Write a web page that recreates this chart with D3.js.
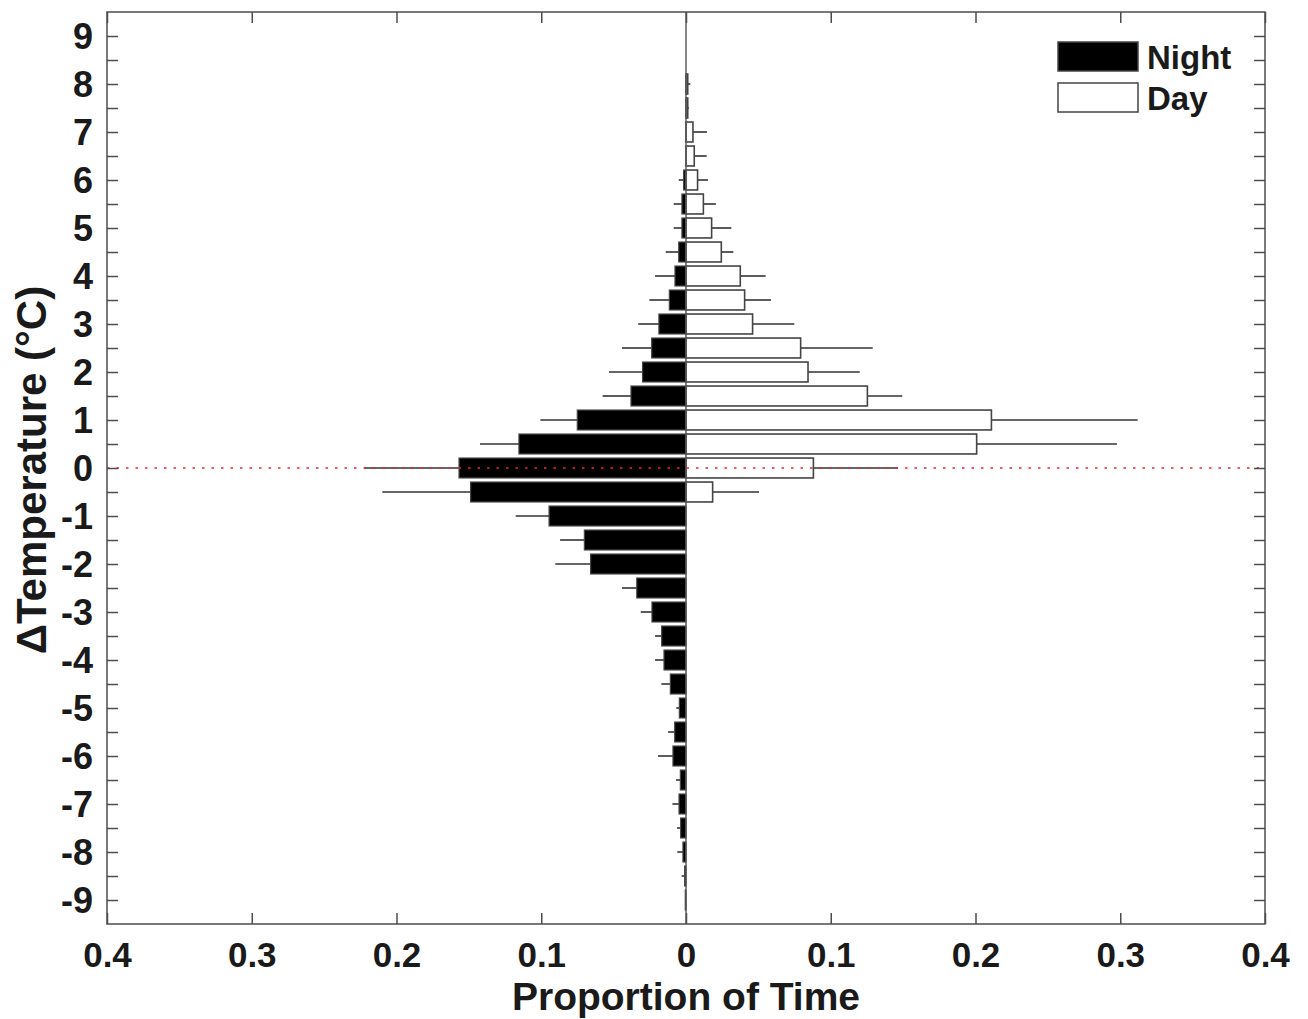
<!DOCTYPE html>
<html>
<head>
<meta charset="utf-8">
<script src="https://cdn.jsdelivr.net/npm/d3@7"></script>
<style>
  body { margin: 0; background: #fff; }
  svg text { font-family: "Liberation Sans", Arial, Helvetica, sans-serif; font-weight: bold; fill: #1a1a1a; }
</style>
</head>
<body>
<div id="chart"></div>
<script>
// temperature bins (centre of each 0.5 degree bin)
const bins = [8, 7.5, 7, 6.5, 6, 5.5, 5, 4.5, 4, 3.5, 3, 2.5, 2, 1.5, 1, 0.5, 0,
  -0.5, -1, -1.5, -2, -2.5, -3, -3.5, -4, -4.5, -5, -5.5, -6, -6.5, -7, -7.5, -8, -8.5, -9];

// proportion of time, night
const night = [0, 0, 0, 0, 0.0016, 0.0028, 0.0028, 0.005, 0.0076, 0.0115, 0.0187, 0.0237, 0.030, 0.038, 0.0751, 0.1154, 0.1568,
  0.1488, 0.0946, 0.0702, 0.0659, 0.034, 0.0235, 0.0168, 0.0152, 0.0108, 0.0046, 0.0078, 0.009, 0.0039, 0.0048, 0.0037, 0.0021, 0.0009, 0.0005];
// end of the night error bar
const nightUpper = [0, 0, 0, 0, 0.005, 0.0085, 0.0085, 0.014, 0.0214, 0.0253, 0.033, 0.0442, 0.0532, 0.0576, 0.1006, 0.1423, 0.2222,
  0.2098, 0.1177, 0.087, 0.0903, 0.0442, 0.0313, 0.0214, 0.0214, 0.017, 0.0067, 0.0124, 0.0193, 0.0069, 0.0094, 0.0062, 0.006, 0.003, 0.0007];

// proportion of time, day
const day = [0.0012, 0.0012, 0.0048, 0.0057, 0.008, 0.012, 0.0177, 0.0244, 0.0375, 0.0405, 0.046, 0.0792, 0.0843, 0.1253, 0.211, 0.2008, 0.088,
  0.0184, 0, 0, 0, 0, 0, 0, 0, 0, 0, 0, 0, 0, 0, 0, 0, 0, 0];
const dayUpper = [0.003, 0.002, 0.0145, 0.0143, 0.0152, 0.0207, 0.0313, 0.0327, 0.055, 0.0587, 0.0748, 0.129, 0.12, 0.1494, 0.312, 0.2977, 0.1465,
  0.0504, 0, 0, 0, 0, 0, 0, 0, 0, 0, 0, 0, 0, 0, 0, 0, 0, 0];

const xTicks = [-0.4, -0.3, -0.2, -0.1, 0, 0.1, 0.2, 0.3, 0.4];
const yTicks = [9, 8, 7, 6, 5, 4, 3, 2, 1, 0, -1, -2, -3, -4, -5, -6, -7, -8, -9];
const yMinorTicks = [8.5, 7.5, 6.5, 5.5, 4.5, 3.5, 2.5, 1.5, 0.5, -0.5, -1.5, -2.5, -3.5, -4.5, -5.5, -6.5, -7.5, -8.5];

const width = 1308, height = 1019;
const margin = {top: 12, right: 43, bottom: 95, left: 107};

const svg = d3.select("#chart").append("svg")
  .attr("width", width)
  .attr("height", height);

const x = d3.scaleLinear().domain([-0.4, 0.4]).range([margin.left, width - margin.right]);
const y = d3.scaleLinear().domain([-9.5, 9.5]).range([height - margin.bottom, margin.top]);

const binH = (y(0) - y(0.5)) * 0.83;
const axisColor = "#4d4d4d";

const data = bins.map((b, i) => ({bin: b, night: night[i], nightUp: nightUpper[i], day: day[i], dayUp: dayUpper[i]}));

// error bars (drawn first, bars sit over the base)
svg.selectAll(".nerr")
  .data(data.filter(d => d.nightUp > d.night))
  .enter()
  .append("line")
  .attr("x1", d => x(-d.night))
  .attr("x2", d => x(-d.nightUp))
  .attr("y1", d => y(d.bin))
  .attr("y2", d => y(d.bin))
  .style("stroke", "#333")
  .style("stroke-width", 1.6);

svg.selectAll(".derr")
  .data(data.filter(d => d.dayUp > d.day))
  .enter()
  .append("line")
  .attr("x1", d => x(d.day))
  .attr("x2", d => x(d.dayUp))
  .attr("y1", d => y(d.bin))
  .attr("y2", d => y(d.bin))
  .style("stroke", "#333")
  .style("stroke-width", 1.6);

// night bars to the left
svg.selectAll(".night")
  .data(data.filter(d => d.night > 0))
  .enter()
  .append("rect")
  .attr("x", d => x(-d.night))
  .attr("y", d => y(d.bin) - binH / 2)
  .attr("width", d => x(0) - x(-d.night))
  .attr("height", binH)
  .style("fill", "#000")
  .style("stroke", "#444")
  .style("stroke-width", 1.2);

// day bars to the right
svg.selectAll(".day")
  .data(data.filter(d => d.day > 0))
  .enter()
  .append("rect")
  .attr("x", x(0))
  .attr("y", d => y(d.bin) - binH / 2)
  .attr("width", d => x(d.day) - x(0))
  .attr("height", binH)
  .style("fill", "#fff")
  .style("stroke", "#444")
  .style("stroke-width", 1.6);

// zero line
svg.append("line")
  .attr("x1", x(0)).attr("x2", x(0))
  .attr("y1", y(9.5)).attr("y2", y(-9.5))
  .style("stroke", "#555")
  .style("stroke-width", 1.4);

// red dotted line at zero temperature difference
svg.append("line")
  .attr("x1", x(-0.4)).attr("x2", x(0.4))
  .attr("y1", y(0)).attr("y2", y(0))
  .style("stroke", "#ff2020")
  .style("stroke-width", 1.3)
  .style("stroke-dasharray", "2.5,7");

// axes box
svg.append("rect")
  .attr("x", x(-0.4))
  .attr("y", y(9.5))
  .attr("width", x(0.4) - x(-0.4))
  .attr("height", y(-9.5) - y(9.5))
  .style("fill", "none")
  .style("stroke", axisColor)
  .style("stroke-width", 1.5);

const tickLen = 11;
const fmtX = d => d === 0 ? "0" : d3.format(".1f")(Math.abs(d));

const xBottom = svg.append("g")
  .attr("transform", `translate(0,${y(-9.5)})`)
  .call(d3.axisBottom(x).tickValues(xTicks).tickFormat(fmtX).tickSizeInner(-tickLen).tickSizeOuter(0).tickPadding(18));
const xTop = svg.append("g")
  .attr("transform", `translate(0,${y(9.5)})`)
  .call(d3.axisTop(x).tickValues(xTicks).tickFormat("").tickSizeInner(-tickLen).tickSizeOuter(0));
const yLeft = svg.append("g")
  .attr("transform", `translate(${x(-0.4)},0)`)
  .call(d3.axisLeft(y).tickValues(yTicks).tickFormat(d => String(d)).tickSizeInner(-tickLen).tickSizeOuter(0).tickPadding(14));
const yLeftMinor = svg.append("g")
  .attr("transform", `translate(${x(-0.4)},0)`)
  .call(d3.axisLeft(y).tickValues(yMinorTicks).tickFormat("").tickSizeInner(-tickLen).tickSizeOuter(0));
const yRight = svg.append("g")
  .attr("transform", `translate(${x(0.4)},0)`)
  .call(d3.axisRight(y).tickValues(yTicks.concat(yMinorTicks)).tickFormat("").tickSizeInner(-tickLen).tickSizeOuter(0));

[xBottom, xTop, yLeft, yLeftMinor, yRight].forEach(g => {
  g.select(".domain").remove();
  g.selectAll(".tick line").style("stroke", axisColor).style("stroke-width", 1.5);
  g.selectAll(".tick text").style("font-size", "36px").style("fill", "#1a1a1a");
});
xBottom.selectAll(".tick text").style("font-size", "35px");
yLeft.selectAll(".tick text").attr("dy", "0.36em");

// axis titles
svg.append("text")
  .attr("x", x(0))
  .attr("y", 1010)
  .attr("text-anchor", "middle")
  .style("font-size", "39px")
  .text("Proportion of Time");

svg.append("text")
  .attr("transform", `translate(46,${y(0) + 2}) rotate(-90)`)
  .attr("text-anchor", "middle")
  .style("font-size", "42px")
  .text("ΔTemperature (°C)");

// legend
const legend = svg.append("g").attr("transform", "translate(1058,42)");
const legendItems = [{label: "Night", fill: "#000"}, {label: "Day", fill: "#fff"}];
const li = legend.selectAll(".legend-item")
  .data(legendItems)
  .enter()
  .append("g")
  .attr("transform", (d, i) => `translate(0,${i * 41})`);
li.append("rect")
  .attr("width", 80)
  .attr("height", 29)
  .style("fill", d => d.fill)
  .style("stroke", "#444")
  .style("stroke-width", 1.5);
li.append("text")
  .attr("x", 89)
  .attr("y", 27)
  .style("font-size", "33px")
  .text(d => d.label);
</script>
</body>
</html>
